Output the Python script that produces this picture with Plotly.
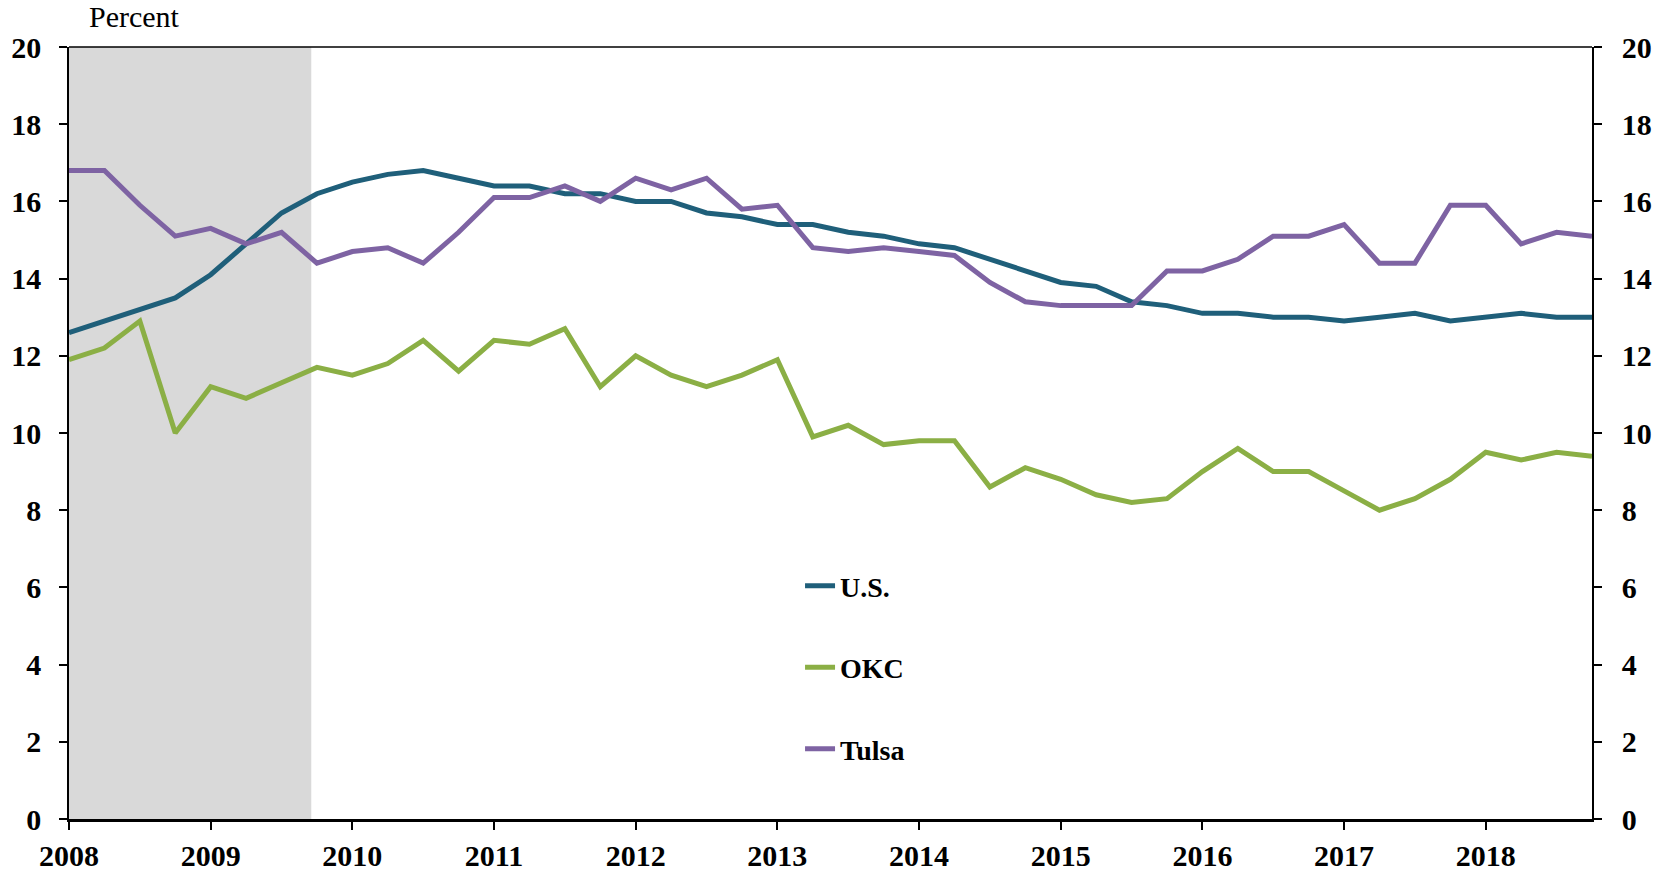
import plotly.graph_objects as go

quarters = [2008 + 0.25 * i for i in range(44)]
us = [12.6, 12.9, 13.2, 13.5, 14.1, 14.9, 15.7, 16.2, 16.5, 16.7, 16.8, 16.6, 16.4, 16.4, 16.2, 16.2,
      16.0, 16.0, 15.7, 15.6, 15.4, 15.4, 15.2, 15.1, 14.9, 14.8, 14.5, 14.2, 13.9, 13.8, 13.4, 13.3,
      13.1, 13.1, 13.0, 13.0, 12.9, 13.0, 13.1, 12.9, 13.0, 13.1, 13.0, 13.0]
okc = [11.9, 12.2, 12.9, 10.0, 11.2, 10.9, 11.3, 11.7, 11.5, 11.8, 12.4, 11.6, 12.4, 12.3, 12.7, 11.2,
       12.0, 11.5, 11.2, 11.5, 11.9, 9.9, 10.2, 9.7, 9.8, 9.8, 8.6, 9.1, 8.8, 8.4, 8.2, 8.3,
       9.0, 9.6, 9.0, 9.0, 8.5, 8.0, 8.3, 8.8, 9.5, 9.3, 9.5, 9.4]
tulsa = [16.8, 16.8, 15.9, 15.1, 15.3, 14.9, 15.2, 14.4, 14.7, 14.8, 14.4, 15.2, 16.1, 16.1, 16.4, 16.0,
         16.6, 16.3, 16.6, 15.8, 15.9, 14.8, 14.7, 14.8, 14.7, 14.6, 13.9, 13.4, 13.3, 13.3, 13.3, 14.2,
         14.2, 14.5, 15.1, 15.1, 15.4, 14.4, 14.4, 15.9, 15.9, 14.9, 15.2, 15.1]
year_ticks = list(range(2008, 2019))
y_ticks = list(range(0, 21, 2))
recession = (2008.0, 2009.71)

series = [("U.S.", us, "#1F5F7A"), ("OKC", okc, "#8BAF45"), ("Tulsa", tulsa, "#7E63A3")]

FONT = "Liberation Serif"
fig = go.Figure()
for i, (name, vals, color) in enumerate(series):
    fig.add_trace(go.Scatter(x=quarters, y=vals, mode="lines", name=name,
                             legendgroup=f"g{i}",
                             line=dict(color=color, width=5)))
# invisible trace on the right axis so it is shown
fig.add_trace(go.Scatter(x=[quarters[0]], y=[None], yaxis="y2", showlegend=False, hoverinfo="skip"))

fig.add_shape(type="rect", xref="x", yref="y", x0=recession[0], x1=recession[1], y0=0, y1=20,
              fillcolor="#D9D9D9", line=dict(width=0), layer="below")

axis_font = dict(family=FONT, size=30, color="black", weight="bold")
fig.update_layout(
    width=1661, height=872,
    margin=dict(l=69, r=69, t=47, b=53, autoexpand=False),
    paper_bgcolor="white", plot_bgcolor="white",
    showlegend=True,
    legend=dict(x=0.48, y=0.334, xanchor="left", yanchor="top",
                font=dict(family=FONT, size=28, color="black", weight="bold"),
                tracegroupgap=42, bgcolor="rgba(0,0,0,0)", itemwidth=30),
    xaxis=dict(range=[2008, 2018.75], tickvals=year_ticks, ticktext=[str(y) for y in year_ticks],
               ticks="outside", ticklen=8, tickwidth=1.5, tickcolor="black",
               showline=True, linecolor="black", linewidth=2.5, mirror=False,
               showgrid=False, zeroline=False, tickfont=axis_font),
    yaxis=dict(range=[0, 20], tickvals=y_ticks, ticks="outside", ticklen=8, tickwidth=1.5,
               tickcolor="black", showline=True, linecolor="black", linewidth=1.5,
               showgrid=False, zeroline=False, tickfont=axis_font, ticklabelstandoff=12),
    yaxis2=dict(range=[0, 20], tickvals=y_ticks, overlaying="y", side="right",
                ticks="outside", ticklen=8, tickwidth=1.5, tickcolor="black",
                showline=True, linecolor="black", linewidth=1.5,
                showgrid=False, zeroline=False, tickfont=axis_font, ticklabelstandoff=14),
)
# top border
fig.add_shape(type="line", xref="paper", yref="paper", x0=0, x1=1, y0=1, y1=1,
              line=dict(color="black", width=1.5))

fig.add_annotation(text="Percent", xref="paper", yref="paper", x=0.0118, y=1.0 + 31 / 772,
                   xanchor="left", yanchor="middle", showarrow=False,
                   font=dict(family=FONT, size=30, color="black"))

fig.write_html("out.html", config={"displayModeBar": False},
               post_script="document.body.style.margin='0';document.body.style.overflow='hidden';")
